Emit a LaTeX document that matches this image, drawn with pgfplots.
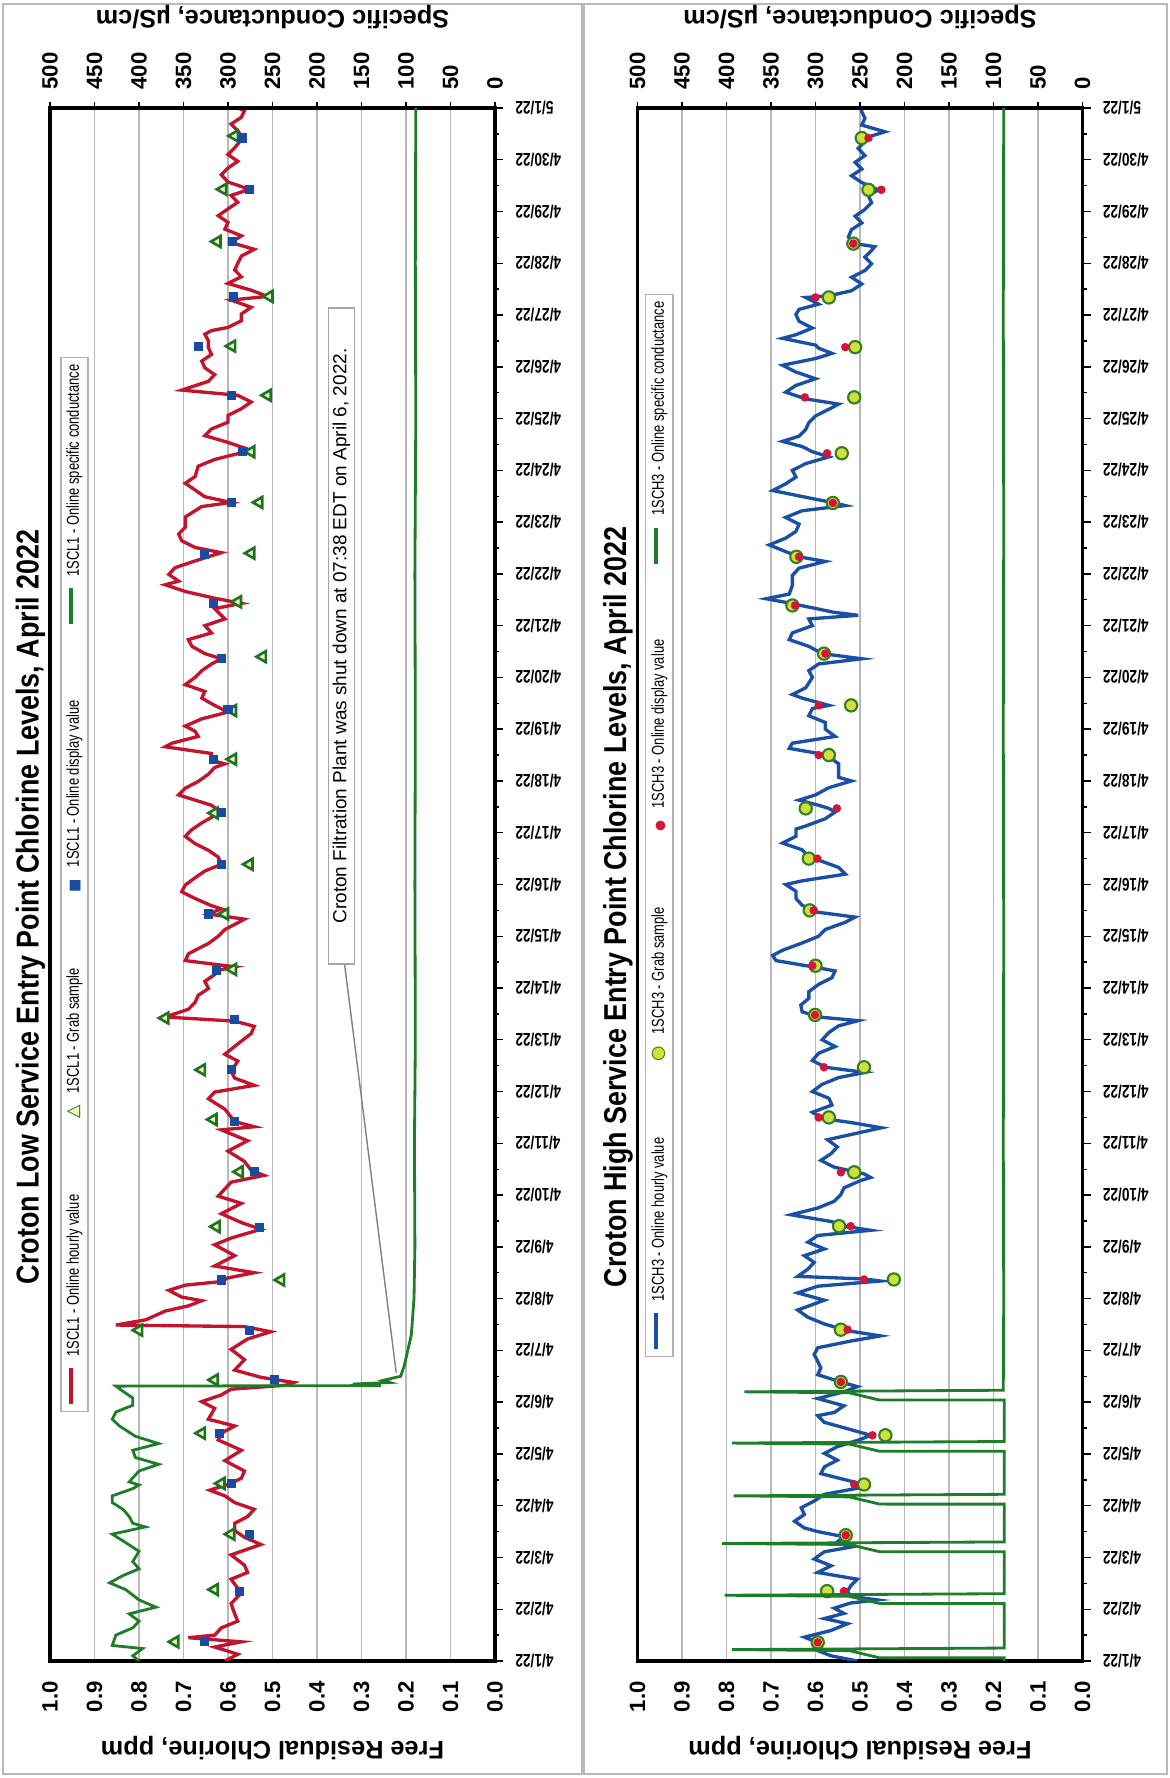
\documentclass[border=0pt]{standalone}
\usepackage{pgfplots}
\pgfplotsset{compat=1.18}
\usepackage{pgfplotstable}
\usepackage{fontspec}
\setmainfont{Liberation Sans}
\newfontfamily\narrowfont[FakeStretch=0.75]{Liberation Sans}
\newfontfamily\titlefont[FakeStretch=0.85]{Liberation Sans}
\newfontfamily\symfont{DejaVu Sans}

\definecolor{cRed}{RGB}{195,20,45}
\definecolor{cBlue}{RGB}{25,80,165}
\definecolor{cGreen}{RGB}{30,125,40}
\definecolor{cSq}{RGB}{25,75,160}
\definecolor{cTriD}{RGB}{30,115,35}
\definecolor{cTriF}{RGB}{240,245,190}
\definecolor{cCirF}{RGB}{205,225,60}
\definecolor{cCirD}{RGB}{55,125,35}
\definecolor{cDot}{RGB}{215,20,55}
\definecolor{cGrid}{RGB}{185,185,185}

% ---------------- Low service (1SCL1) ----------------
\pgfplotstableread{
d v
0.00 0.607
0.13 0.578
0.27 0.630
0.37 0.570
0.45 0.689
0.50 0.630
0.64 0.615
0.77 0.578
0.91 0.585
1.11 0.593
1.31 0.570
1.58 0.593
1.71 0.556
1.85 0.563
2.05 0.593
2.25 0.526
2.39 0.563
2.52 0.585
2.66 0.585
2.79 0.556
2.93 0.541
3.06 0.585
3.19 0.607
3.30 0.641
3.43 0.593
3.53 0.570
3.67 0.563
3.87 0.607
4.07 0.570
4.27 0.622
4.40 0.615
4.54 0.585
4.67 0.644
4.88 0.630
5.01 0.659
5.14 0.615
5.25 0.593
5.33 0.467
5.38 0.452
5.48 0.526
5.62 0.585
5.82 0.563
6.02 0.593
6.22 0.556
6.36 0.504
6.46 0.563
6.49 0.852
6.59 0.785
6.76 0.741
6.86 0.689
6.96 0.659
7.03 0.704
7.16 0.733
7.26 0.696
7.33 0.615
7.40 0.600
7.50 0.541
7.63 0.630
7.83 0.585
8.04 0.630
8.17 0.593
8.34 0.526
8.47 0.570
8.64 0.615
8.84 0.570
8.98 0.622
9.25 0.593
9.38 0.519
9.48 0.548
9.65 0.563
9.85 0.600
10.05 0.556
10.26 0.615
10.32 0.541
10.42 0.585
10.66 0.607
10.86 0.644
10.99 0.630
11.12 0.541
11.26 0.585
11.39 0.593
11.59 0.578
11.72 0.607
11.92 0.578
12.12 0.548
12.26 0.541
12.36 0.585
12.44 0.741
12.59 0.689
12.72 0.674
12.86 0.667
12.99 0.644
13.13 0.652
13.26 0.630
13.34 0.622
13.41 0.585
13.53 0.696
13.66 0.689
13.73 0.674
13.86 0.644
14.00 0.622
14.13 0.607
14.26 0.578
14.33 0.563
14.43 0.644
14.53 0.615
14.59 0.637
14.73 0.674
14.86 0.704
14.99 0.696
15.13 0.674
15.26 0.652
15.39 0.615
15.53 0.622
15.66 0.644
15.79 0.674
15.93 0.696
16.06 0.681
16.19 0.659
16.33 0.630
16.39 0.615
16.53 0.637
16.73 0.711
16.86 0.696
16.99 0.667
17.13 0.644
17.26 0.630
17.33 0.607
17.40 0.637
17.53 0.637
17.66 0.741
17.73 0.726
17.86 0.667
17.96 0.674
18.06 0.696
18.20 0.659
18.33 0.600
18.46 0.630
18.60 0.659
18.73 0.652
18.86 0.696
19.00 0.674
19.13 0.659
19.26 0.637
19.36 0.615
19.46 0.652
19.60 0.681
19.73 0.689
19.86 0.637
20.00 0.652
20.13 0.607
20.33 0.630
20.43 0.570
20.53 0.630
20.66 0.696
20.79 0.741
20.86 0.711
20.99 0.733
21.12 0.719
21.25 0.674
21.35 0.637
21.41 0.615
21.51 0.674
21.64 0.704
21.77 0.711
21.90 0.696
22.10 0.696
22.30 0.659
22.38 0.593
22.49 0.652
22.62 0.674
22.75 0.696
22.88 0.674
23.08 0.667
23.21 0.630
23.34 0.570
23.41 0.556
23.54 0.600
23.67 0.652
23.80 0.637
23.93 0.600
24.06 0.600
24.19 0.570
24.32 0.548
24.45 0.578
24.55 0.704
24.72 0.644
24.85 0.630
24.98 0.652
25.11 0.659
25.24 0.637
25.37 0.644
25.50 0.644
25.63 0.652
25.70 0.637
25.76 0.600
25.89 0.570
26.02 0.570
26.15 0.548
26.29 0.593
26.36 0.511
26.48 0.548
26.61 0.600
26.74 0.570
26.87 0.585
27.00 0.578
27.14 0.570
27.27 0.541
27.40 0.593
27.53 0.570
27.66 0.607
27.79 0.600
27.92 0.622
28.05 0.600
28.18 0.578
28.31 0.593
28.43 0.552
28.57 0.600
28.71 0.615
28.84 0.600
28.97 0.578
29.10 0.600
29.23 0.585
29.42 0.567
29.56 0.578
29.69 0.593
29.82 0.570
29.95 0.563
30.00 0.578
}\lowred

\pgfplotstableread{
d v
0.37 0.719
1.38 0.630
2.45 0.593
3.43 0.615
4.40 0.659
5.43 0.630
6.39 0.800
7.36 0.481
8.39 0.626
9.45 0.574
10.46 0.633
11.42 0.659
12.42 0.741
13.36 0.589
14.43 0.607
15.39 0.552
16.38 0.630
17.42 0.589
18.36 0.589
19.40 0.522
20.46 0.578
21.40 0.548
22.38 0.530
23.36 0.548
24.45 0.511
25.40 0.591
26.36 0.507
27.42 0.624
28.43 0.611
29.46 0.585
}\lowgrab

\pgfplotstableread{
d v
0.37 0.652
1.35 0.574
2.45 0.552
3.43 0.593
4.40 0.619
5.43 0.496
6.39 0.552
7.36 0.615
8.37 0.530
9.45 0.541
10.42 0.585
11.42 0.593
12.40 0.585
13.34 0.626
14.43 0.644
15.39 0.615
16.39 0.615
17.42 0.633
18.38 0.600
19.36 0.615
20.43 0.633
21.38 0.652
22.38 0.593
23.36 0.567
24.45 0.593
25.40 0.667
26.35 0.587
27.42 0.589
28.43 0.552
29.42 0.567
}\lowdisp

\pgfplotstableread{
d c
0.00 400
0.10 407
0.24 396
0.30 430
0.50 426
0.64 407
0.77 400
0.91 411
1.04 381
1.18 400
1.38 415
1.51 433
1.65 418
1.78 400
1.92 407
2.12 400
2.32 418
2.45 430
2.59 393
2.66 407
2.79 411
2.93 418
3.06 430
3.19 430
3.33 407
3.40 400
3.46 411
3.67 400
3.80 378
3.93 404
4.07 407
4.20 378
4.34 404
4.54 422
4.67 430
4.81 426
4.94 407
5.08 407
5.21 418
5.31 426
5.32 128
5.35 160
5.38 118
5.42 126
5.50 106
5.70 102
6.00 98
6.30 94
7.00 91
8.00 90
10.00 90.5
12.00 89.5
15.00 90
18.00 89.5
21.00 90
24.00 89
27.00 89.5
30.00 89
}\lowcond

% ---------------- High service (1SCH3) ----------------
\pgfplotstableread{
d v
0.00 0.506
0.10 0.565
0.20 0.595
0.36 0.595
0.46 0.625
0.59 0.565
0.72 0.528
0.82 0.580
0.92 0.536
1.02 0.558
1.12 0.521
1.18 0.461
1.25 0.521
1.35 0.528
1.45 0.521
1.58 0.506
1.71 0.595
1.84 0.565
1.97 0.603
2.11 0.580
2.20 0.521
2.30 0.551
2.40 0.536
2.50 0.595
2.57 0.625
2.70 0.647
2.83 0.625
2.96 0.632
3.09 0.603
3.22 0.580
3.36 0.491
3.41 0.491
3.49 0.528
3.62 0.588
3.75 0.580
3.88 0.551
4.01 0.580
4.14 0.551
4.28 0.499
4.36 0.476
4.47 0.521
4.61 0.580
4.74 0.595
4.80 0.558
4.93 0.536
5.07 0.595
5.20 0.536
5.30 0.506
5.39 0.543
5.53 0.595
5.66 0.588
5.79 0.595
5.92 0.603
6.05 0.595
6.18 0.521
6.28 0.454
6.38 0.528
6.51 0.580
6.64 0.617
6.78 0.640
6.97 0.580
7.11 0.640
7.24 0.595
7.34 0.454
7.38 0.491
7.43 0.640
7.57 0.617
7.70 0.603
7.83 0.625
7.96 0.580
8.09 0.617
8.22 0.595
8.32 0.476
8.39 0.528
8.49 0.565
8.62 0.655
8.75 0.595
8.88 0.558
9.01 0.543
9.14 0.536
9.28 0.499
9.34 0.476
9.41 0.491
9.54 0.558
9.67 0.588
9.80 0.565
9.93 0.551
10.07 0.573
10.30 0.452
10.40 0.519
10.48 0.585
10.60 0.607
10.74 0.563
10.87 0.570
11.00 0.607
11.14 0.585
11.27 0.548
11.37 0.489
11.47 0.578
11.60 0.607
11.74 0.593
11.87 0.556
12.00 0.585
12.14 0.570
12.27 0.548
12.37 0.504
12.44 0.593
12.54 0.630
12.67 0.633
12.80 0.615
12.93 0.615
13.07 0.593
13.20 0.563
13.33 0.556
13.40 0.600
13.53 0.689
13.63 0.696
13.73 0.674
13.87 0.630
14.00 0.593
14.13 0.578
14.27 0.533
14.37 0.511
14.47 0.600
14.60 0.630
14.73 0.644
14.87 0.644
15.00 0.667
15.07 0.630
15.20 0.533
15.33 0.548
15.47 0.593
15.53 0.615
15.67 0.630
15.80 0.674
15.93 0.644
16.07 0.644
16.13 0.622
16.27 0.578
16.40 0.556
16.47 0.570
16.53 0.593
16.63 0.637
16.73 0.600
16.87 0.570
17.00 0.519
17.07 0.548
17.20 0.548
17.33 0.548
17.47 0.570
17.53 0.593
17.63 0.659
17.73 0.652
17.86 0.556
18.00 0.578
18.13 0.578
18.26 0.615
18.40 0.607
18.46 0.570
18.60 0.630
18.67 0.652
18.80 0.622
19.00 0.607
19.13 0.615
19.26 0.593
19.36 0.496
19.46 0.585
19.60 0.615
19.73 0.659
19.86 0.652
20.00 0.607
20.13 0.615
20.20 0.504
20.26 0.560
20.32 0.593
20.45 0.667
20.52 0.711
20.61 0.659
20.78 0.652
20.97 0.652
21.11 0.637
21.24 0.578
21.33 0.637
21.43 0.667
21.56 0.704
21.69 0.667
21.82 0.644
21.96 0.637
22.09 0.667
22.22 0.630
22.32 0.533
22.38 0.563
22.48 0.622
22.61 0.696
22.74 0.667
22.87 0.644
23.00 0.652
23.13 0.622
23.26 0.570
23.36 0.607
23.46 0.630
23.56 0.674
23.66 0.637
23.79 0.622
23.92 0.615
24.05 0.600
24.18 0.570
24.28 0.548
24.38 0.622
24.51 0.667
24.64 0.644
24.77 0.600
24.90 0.644
25.03 0.674
25.16 0.600
25.26 0.563
25.36 0.593
25.42 0.600
25.55 0.674
25.62 0.644
25.75 0.607
25.88 0.637
26.01 0.644
26.11 0.637
26.21 0.593
26.34 0.622
26.37 0.570
26.47 0.519
26.60 0.496
26.73 0.519
26.86 0.489
26.99 0.474
27.12 0.489
27.25 0.474
27.32 0.467
27.38 0.511
27.51 0.526
27.65 0.519
27.78 0.496
27.91 0.511
28.04 0.489
28.17 0.474
28.30 0.481
28.42 0.459
28.56 0.496
28.69 0.519
28.82 0.496
28.95 0.511
29.08 0.489
29.22 0.504
29.35 0.489
29.42 0.489
29.54 0.444
29.67 0.496
29.80 0.489
29.93 0.496
30.00 0.496
}\highblue

\pgfplotstableread{
d v
0.36 0.595
1.35 0.574
2.43 0.532
3.41 0.491
4.36 0.443
5.39 0.543
6.40 0.543
7.37 0.424
8.40 0.547
9.44 0.513
10.50 0.570
11.47 0.491
12.48 0.601
13.43 0.600
14.50 0.613
15.50 0.615
16.47 0.622
17.50 0.570
18.46 0.520
19.46 0.581
20.39 0.652
21.33 0.643
22.37 0.561
23.33 0.541
24.41 0.513
25.38 0.511
26.34 0.570
27.38 0.515
28.42 0.481
29.42 0.496
}\highgrab

\pgfplotstableread{
d v
0.36 0.595
1.35 0.536
2.43 0.532
3.41 0.513
4.36 0.472
5.39 0.543
6.40 0.528
7.37 0.491
8.40 0.521
9.44 0.543
10.50 0.593
11.47 0.581
12.48 0.601
13.43 0.607
14.50 0.604
15.50 0.596
16.47 0.552
17.50 0.593
18.46 0.593
19.46 0.578
20.39 0.646
21.33 0.637
22.37 0.561
23.33 0.574
24.41 0.624
25.38 0.533
26.34 0.600
27.38 0.515
28.42 0.452
29.42 0.481
}\highdisp

\pgfplotstableread{
d c
0.00 88
0.06 88
0.061 228
0.20 262
0.22 394
0.25 88
1.11 88
1.111 228
1.25 262
1.27 402
1.30 88
2.11 88
2.111 228
2.25 262
2.27 405
2.30 88
3.03 88
3.031 228
3.17 262
3.19 392
3.22 88
4.05 88
4.051 228
4.19 262
4.21 394
4.24 88
5.04 88
5.041 228
5.18 262
5.20 380
5.23 89
7.00 88.5
10.00 89
14.00 88.5
18.00 89
22.00 88.5
26.00 89
30.00 88.5
}\highcond

\pgfplotsset{
  chlaxis/.style={
    scale only axis, width=44.5mm, height=155.3mm, anchor=center,
    xmin=0, xmax=1, x dir=reverse, ymin=0, ymax=30,
    xtick={0,0.1,0.2,0.3,0.4,0.5,0.6,0.7,0.8,0.9,1},
    xticklabels={0.0,0.1,0.2,0.3,0.4,0.5,0.6,0.7,0.8,0.9,1.0},
    xmajorgrids, grid style={cGrid, line width=0.5pt},
    xtick style={draw=none},
    xticklabel style={rotate=90, anchor=east, font=\bfseries\fontsize{6.3}{7}\selectfont},
    ytick={0,...,30},
    yticklabels={4/1/22,4/2/22,4/3/22,4/4/22,4/5/22,4/6/22,4/7/22,4/8/22,4/9/22,4/10/22,4/11/22,4/12/22,4/13/22,4/14/22,4/15/22,4/16/22,4/17/22,4/18/22,4/19/22,4/20/22,4/21/22,4/22/22,4/23/22,4/24/22,4/25/22,4/26/22,4/27/22,4/28/22,4/29/22,4/30/22,5/1/22},
    ytick pos=right, yticklabel pos=right,
    yticklabel style={rotate=180, anchor=east, font=\narrowfont\bfseries\fontsize{5.2}{6}\selectfont},
    tick align=outside, major tick length=0.8mm,
    minor y tick num=1, minor tick length=0.4mm,
    ytick style={black, line width=0.4pt},
    axis line style={black, line width=1.1pt},
    xlabel={Free Residual Chlorine, ppm},
    xlabel style={rotate=180, anchor=south, font=\bfseries\fontsize{7.2}{8}\selectfont},
  },
  condaxis/.style={
    scale only axis, width=44.5mm, height=155.3mm, anchor=center,
    xmin=0, xmax=500, x dir=reverse, ymin=0, ymax=30,
    axis x line*=top, axis y line=none,
    xtick={0,50,100,150,200,250,300,350,400,450,500},
    xticklabels={0,50,100,150,200,250,300,350,400,450,500},
    xticklabel style={rotate=90, anchor=west, font=\bfseries\fontsize{6.3}{7}\selectfont},
    tick align=outside, major tick length=0.6mm,
    xtick style={black, line width=0.4pt},
    axis line style={black, line width=1.1pt},
    xlabel={Specific Conductance, µS/cm},
    xlabel style={rotate=180, anchor=north, font=\bfseries\fontsize{7.2}{8}\selectfont},
  },
}
\tikzset{
  legtext/.style={rotate=90, draw=gray!60, fill=white, inner xsep=2pt, inner ysep=1.6pt,
    font=\narrowfont\fontsize{4.9}{5.5}\selectfont},
}

\newcommand{\legline}[1]{\textcolor{#1}{\rule[0.32em]{3.6mm}{1.3pt}}\hspace{1.2mm}}
\newcommand{\leggap}{\hspace{7.6mm}}

\begin{document}
\begin{tikzpicture}
\useasboundingbox (0,0) rectangle (117mm,177.8mm);

% panel frames
\draw[gray!55, line width=0.7pt] (0.3mm,0.4mm) rectangle (58.2mm,177.4mm);
\draw[gray!55, line width=0.7pt] (58.4mm,0.4mm) rectangle (116.7mm,177.4mm);

% ===== Left: Low Service =====
\begin{axis}[chlaxis, at={(27.25mm,89.35mm)}]
  \addplot[cRed, line width=0.95pt] table[x=v, y=d] {\lowred};
  \addplot[only marks, mark=triangle*, mark size=1.8pt,
    mark options={rotate=90, draw=cTriD, fill=cTriF, line width=0.75pt}] table[x=v, y=d] {\lowgrab};
  \addplot[only marks, mark=square*, mark size=1.1pt,
    mark options={draw=cSq, fill=cSq}] table[x=v, y=d] {\lowdisp};
  \draw[gray, line width=0.4pt] (axis cs:0.338,13.46) -- (axis cs:0.222,5.57);
  \node[draw=gray!70, fill=white, rotate=90, inner sep=1.2pt, minimum width=65.6mm,
    font=\fontsize{5.4}{6}\selectfont] at (axis cs:0.345,19.8)
    {Croton Filtration Plant was shut down at 07:38 EDT on April 6, 2022.};
\end{axis}
\begin{axis}[condaxis, at={(27.25mm,89.35mm)}]
  \addplot[cGreen, line width=0.8pt] table[x=c, y=d] {\lowcond};
  \node[legtext] at (axis description cs:0.055,0.500) {%
    \legline{cRed}1SCL1 - Online hourly value\leggap
    {\symfont\fontsize{5}{5}\selectfont\rlap{\textcolor{cTriF}{▲}}\textcolor{cTriD}{△}}\hspace{1.2mm}1SCL1 - Grab sample\leggap
    {\symfont\fontsize{4}{5}\selectfont\textcolor{cSq}{■}}\hspace{1.2mm}1SCL1 - Online display value\leggap
    \legline{cGreen}1SCL1 - Online specific conductance};
\end{axis}

% ===== Right: High Service =====
\begin{axis}[chlaxis, at={(86.0mm,89.35mm)}]
  \addplot[cBlue, line width=0.95pt] table[x=v, y=d] {\highblue};
  \addplot[only marks, mark=*, mark size=1.75pt,
    mark options={draw=cCirD, fill=cCirF, line width=0.6pt}] table[x=v, y=d] {\highgrab};
  \addplot[only marks, mark=*, mark size=1.0pt,
    mark options={draw=cDot, fill=cDot}] table[x=v, y=d] {\highdisp};
\end{axis}
\begin{axis}[condaxis, at={(86.0mm,89.35mm)}]
  \addplot[cGreen, line width=0.8pt] table[x=c, y=d] {\highcond};
  \node[legtext] at (axis description cs:0.049,0.538) {%
    \legline{cBlue}1SCH3 - Online hourly value\leggap
    {\symfont\fontsize{5}{5}\selectfont\rlap{\textcolor{cCirF}{●}}\textcolor{cCirD}{○}}\hspace{1.2mm}1SCH3 - Grab sample\leggap
    {\symfont\fontsize{3.6}{5}\selectfont\textcolor{cDot}{●}}\hspace{1.2mm}1SCH3 - Online display value\leggap
    \legline{cGreen}1SCH3 - Online specific conductance};
\end{axis}

% titles
\node[rotate=90, font=\titlefont\bfseries\fontsize{9}{10}\selectfont] at (3.05mm,87.1mm)
  {Croton Low Service Entry Point Chlorine Levels, April 2022};
\node[rotate=90, font=\titlefont\bfseries\fontsize{9}{10}\selectfont] at (61.8mm,87.1mm)
  {Croton High Service Entry Point Chlorine Levels, April 2022};
\end{tikzpicture}
\end{document}
